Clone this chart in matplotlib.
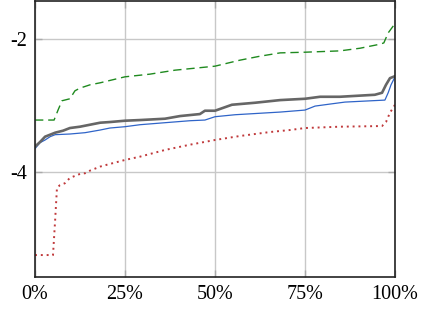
import matplotlib
matplotlib.use("Agg")
import matplotlib.pyplot as plt
from matplotlib.ticker import FixedLocator, FixedFormatter

plt.rcParams['font.family'] = ['Liberation Serif', 'DejaVu Serif']
plt.rcParams['axes.unicode_minus'] = False

# data (x in percent, y values)
green_x = [0, 5.3, 6.4, 7.5, 9.7, 11.1, 12.5, 15.3, 18.1, 25, 31.9, 38.9, 50, 56.9, 62.5, 68.1, 75, 84.7, 90.3, 95.8, 96.9, 98.1, 100]
green_y = [-3.22, -3.22, -3.07, -2.93, -2.90, -2.78, -2.74, -2.69, -2.66, -2.57, -2.53, -2.47, -2.41, -2.32, -2.26, -2.21, -2.20, -2.18, -2.14, -2.08, -2.06, -1.91, -1.77]

gray_x = [0, 1.4, 2.8, 4.2, 5.6, 7.8, 9.7, 12.5, 15.3, 18.1, 20.8, 25, 29.2, 36.1, 40.3, 45.8, 47.2, 50, 54.7, 61.1, 68.1, 75, 79.2, 84.7, 94.4, 96.4, 97.5, 98.6, 100]
gray_y = [-3.62, -3.55, -3.47, -3.44, -3.41, -3.38, -3.34, -3.32, -3.29, -3.26, -3.25, -3.23, -3.22, -3.20, -3.16, -3.13, -3.08, -3.08, -2.99, -2.96, -2.92, -2.90, -2.87, -2.87, -2.84, -2.81, -2.69, -2.59, -2.56]

blue_x = [0, 1.4, 2.8, 4.2, 5.6, 9.7, 13.9, 18.1, 20.8, 25, 29.2, 36.1, 43.1, 47.2, 50, 55.6, 68.1, 75, 77.8, 81.9, 86.1, 97.2, 98.1, 98.9, 100]
blue_y = [-3.65, -3.56, -3.52, -3.47, -3.44, -3.43, -3.41, -3.37, -3.34, -3.32, -3.29, -3.26, -3.23, -3.22, -3.17, -3.14, -3.10, -3.07, -3.01, -2.98, -2.95, -2.92, -2.81, -2.69, -2.57]

red_x = [0, 5, 5.6, 6.1, 6.9, 8.3, 9.7, 11.1, 12.5, 13.9, 15.3, 16.7, 18.1, 20.8, 25, 29.2, 36.1, 43.1, 50, 56.9, 65.3, 70.8, 75, 84.7, 96.4, 97.5, 98.6, 100]
red_y = [-5.25, -5.25, -4.72, -4.24, -4.20, -4.17, -4.09, -4.06, -4.03, -4.02, -3.98, -3.95, -3.92, -3.88, -3.82, -3.77, -3.67, -3.59, -3.52, -3.46, -3.40, -3.37, -3.34, -3.32, -3.31, -3.25, -3.11, -2.99]

x_ticks = [0, 25, 50, 75, 100]
x_labels = ['0%', '25%', '50%', '75%', '100%']
y_ticks = [-4, -2]
y_labels = ['-4', '-2']

fig = plt.figure(figsize=(4.27, 3.09), dpi=100)
ax = fig.add_axes([35/427, 1 - 277/309, 360/427, 276/309])

ax.plot(green_x, green_y, color='#1f8a1f', lw=1.0, ls=(0, (6, 3.5)))
ax.plot(red_x, red_y, color='#c0393b', lw=1.4, ls=(0, (1, 2)))
ax.plot(blue_x, blue_y, color='#2f64c8', lw=0.9)
ax.plot(gray_x, gray_y, color='#666666', lw=1.9)

ax.set_xlim(0, 100)
ax.set_ylim(-5.58, -1.43)
ax.xaxis.set_major_locator(FixedLocator(x_ticks))
ax.xaxis.set_major_formatter(FixedFormatter(x_labels))
ax.yaxis.set_major_locator(FixedLocator(y_ticks))
ax.yaxis.set_major_formatter(FixedFormatter(y_labels))
ax.grid(True, color='#c8c8c8', lw=1.0)
ax.set_axisbelow(True)
ax.tick_params(direction='in', length=5, width=1, color='#aaaaaa', labelsize=14.5,
               top=True, right=True, pad=6)
for s in ax.spines.values():
    s.set_color('#222222')
    s.set_linewidth(1.2)

fig.savefig('out.png', dpi=100)
